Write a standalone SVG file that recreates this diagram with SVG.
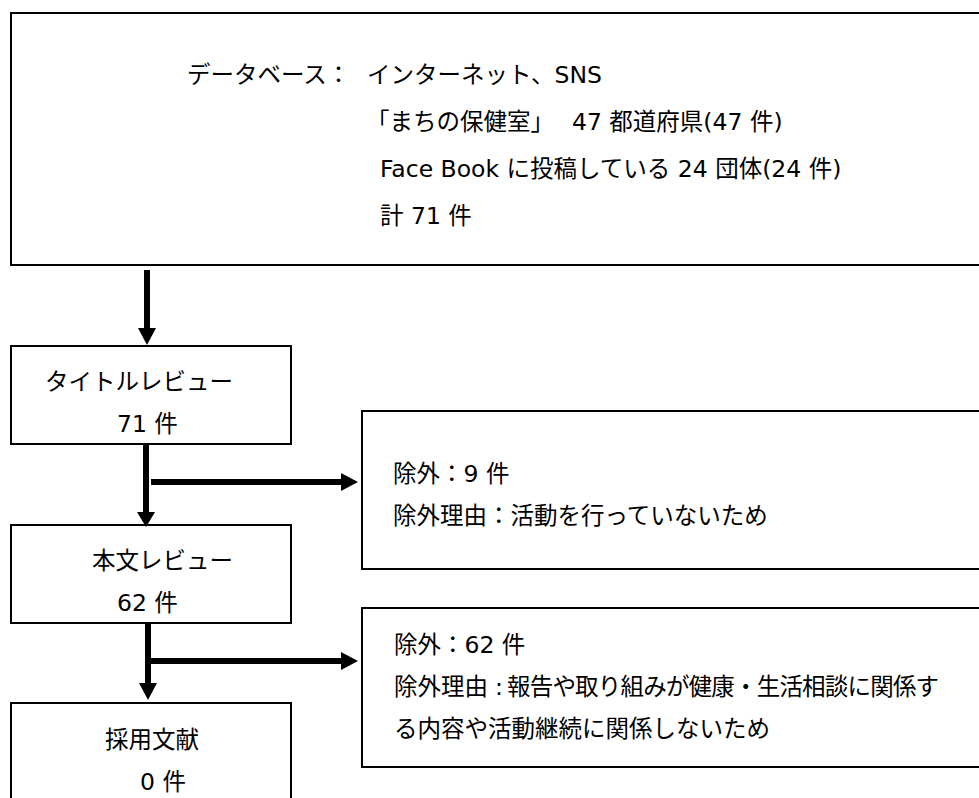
<svg xmlns="http://www.w3.org/2000/svg" width="979" height="798" viewBox="0 0 979 798">
<style>
.box{fill:#fff;stroke:#000;stroke-width:2}
.t{font-family:"DejaVu Sans","Noto Sans CJK JP",sans-serif;font-size:23.5px;fill:#000}
.c{stroke:#000;stroke-width:6;fill:none}
.h{fill:#000;stroke:none}
</style>
<rect width="979" height="798" fill="#fff"/>
<g id="database">
<rect class="box" x="11" y="13" width="990" height="252"/>
<text class="t" x="187" y="83">データベース：<tspan x="367">インターネット、SNS</tspan></text>
<text class="t" x="366" y="130">「まちの保健室」<tspan x="572">47 都道府県(47 件)</tspan></text>
<text class="t" x="380" y="177">Face Book に投稿している 24 団体(24 件)</text>
<text class="t" x="380" y="224">計 71 件</text>
</g>
<g id="title-review">
<rect class="box" x="11" y="346" width="280" height="98"/>
<text class="t" x="45" y="390">タイトルレビュー</text>
<text class="t" x="117" y="432">71 件</text>
</g>
<g id="exclusion1">
<rect class="box" x="362" y="411" width="640" height="158"/>
<text class="t" x="393" y="482">除外：9 件</text>
<text class="t" x="393" y="524">除外理由：活動を行っていないため</text>
</g>
<g id="fulltext-review">
<rect class="box" x="11" y="525" width="280" height="98"/>
<text class="t" x="92" y="569">本文レビュー</text>
<text class="t" x="117" y="611">62 件</text>
</g>
<g id="exclusion2">
<rect class="box" x="362" y="608" width="640" height="159"/>
<text class="t" x="394" y="653">除外：62 件</text>
<text class="t" x="394" y="695">除外理由<tspan x="495">:</tspan><tspan x="507" letter-spacing="-0.8">報告や取り組みが健康・生活相談に関係す</tspan></text>
<text class="t" x="394" y="737">る内容や活動継続に関係しないため</text>
</g>
<g id="adopted">
<rect class="box" x="11" y="703" width="280" height="110"/>
<text class="t" x="105" y="748">採用文献</text>
<text class="t" x="140" y="790">0 件</text>
</g>
<g id="connectors">
<line class="c" x1="147" y1="270" x2="147" y2="330"/>
<polygon class="h" points="138,328 156,328 147,345"/>
<line class="c" x1="146" y1="444" x2="146" y2="514"/>
<polygon class="h" points="137,512 155,512 146,527"/>
<line class="c" x1="151" y1="482" x2="343" y2="482"/>
<polygon class="h" points="341,473 341,491 358,482"/>
<line class="c" x1="148" y1="623" x2="148" y2="685"/>
<polygon class="h" points="139,683 157,683 148,700"/>
<line class="c" x1="151" y1="661" x2="343" y2="661"/>
<polygon class="h" points="341,652 341,670 358,661"/>
</g>
</svg>
